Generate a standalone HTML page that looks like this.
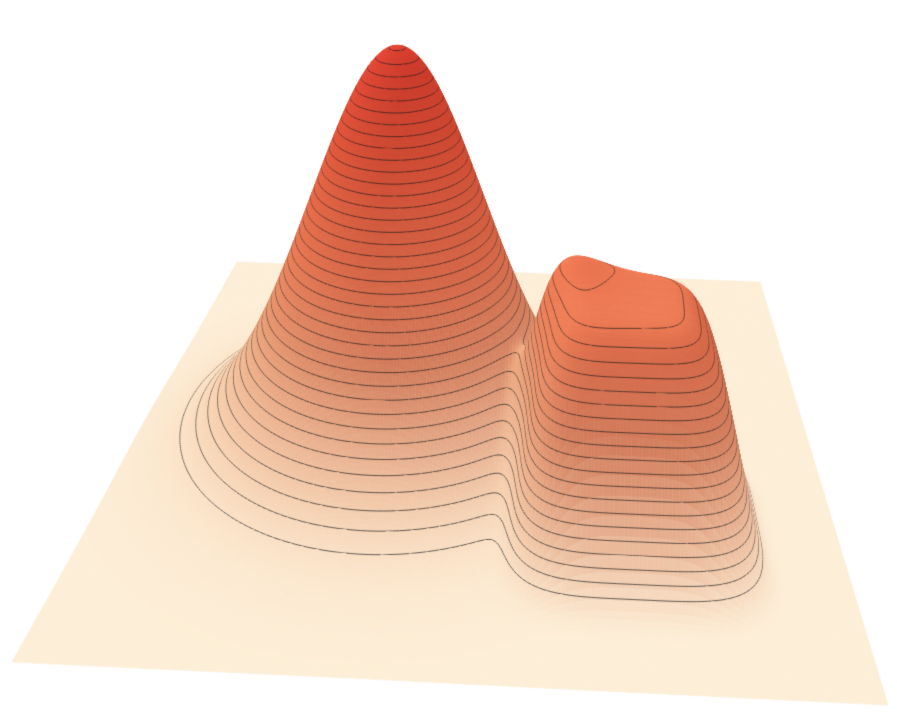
<!DOCTYPE html>
<html><head><meta charset="utf-8"><style>
html,body{margin:0;padding:0;background:#fff;width:897px;height:720px;overflow:hidden}
canvas{display:block}
</style></head><body>
<div style="position:relative;width:897px;height:720px">
<canvas id="c" width="897" height="720"></canvas>
</div>
<script>
// base plane corners (screen) : back-left, back-right, front-right, front-left
const cornerX = [237, 760, 888, 12];
const cornerY = [262, 282, 705, 662];
// peaks in plane coordinates
const peakU = [0.38, 0.725];
const peakV = [0.52, 0.73];
const peakH = [0.98, 0.53];
const peakS = [0.13, 0.127];
const peakP = [2, 6];
const levelStep = 0.025;
const levelStart = 0.05;

const N = 220, HPX = 308;
const cv = document.getElementById('c'), ctx = cv.getContext('2d');
const [x0,x1,x2,x3] = cornerX, [y0,y1,y2,y3] = cornerY;
const dx1=x1-x2, dx2=x3-x2, dx3=x0-x1+x2-x3, dy1=y1-y2, dy2=y3-y2, dy3=y0-y1+y2-y3;
const den = dx1*dy2-dx2*dy1;
const g=(dx3*dy2-dx2*dy3)/den, h=(dx1*dy3-dx3*dy1)/den;
const a=x1-x0+g*x1, b=x3-x0+h*x3, c=x0, d=y1-y0+g*y1, e=y3-y0+h*y3, f=y0;
function proj(u,v,z){const w=g*u+h*v+1;return [(a*u+b*v+c)/w,(d*u+e*v+f)/w - z*HPX/w];}
function height(u,v){let z=0;for(let i=0;i<peakU.length;i++){const du=Math.abs(u-peakU[i]),dv=Math.abs(v-peakV[i]);
  let r; if(peakP[i]===2) r=Math.hypot(du,dv); else r=Math.pow(Math.pow(du,4)+Math.pow(dv,4),0.25);
  z+=peakH[i]*Math.exp(-0.5*Math.pow(r/peakS[i],peakP[i]));}return z;}
const stops=[[0,[253,238,215]],[0.12,[250,212,178]],[0.3,[246,176,132]],[0.5,[249,138,96]],[0.75,[242,102,70]],[1,[236,72,56]]];
function cmap(t){for(let i=1;i<stops.length;i++){if(t<=stops[i][0]){const s=(t-stops[i-1][0])/(stops[i][0]-stops[i-1][0]);
  return stops[i-1][1].map((q,k)=>q+(stops[i][1][k]-q)*s);}}return stops[stops.length-1][1];}
const Z=[];for(let j=0;j<=N;j++){Z.push([]);for(let i=0;i<=N;i++)Z[j].push(height(i/N,j/N));}
const L=[-0.45,-0.35,0.82];const ll=Math.hypot(...L);
ctx.fillStyle='#fff';ctx.fillRect(0,0,897,720);
ctx.lineJoin='round';
for(let j=0;j<N;j++){
  const v0=j/N,v1=(j+1)/N;
  for(let i=0;i<N;i++){
    const u0=i/N,u1=(i+1)/N;
    const z00=Z[j][i],z10=Z[j][i+1],z11=Z[j+1][i+1],z01=Z[j+1][i];
    const zm=(z00+z10+z11+z01)/4;
    const gu=((z10+z11)-(z00+z01))/2*N*0.6, gv=((z01+z11)-(z00+z10))/2*N*0.6;
    const nl=Math.hypot(gu,gv,1);const nd=(-gu*L[0]-gv*L[1]+L[2])/(nl*ll);
    const sh0=0.74+0.26*Math.max(0,nd);
    const sh=1-(1-sh0)*Math.min(1,zm*3);
    const base=cmap(Math.min(1,zm));
    const col=[Math.round(base[0]*(0.45+0.55*sh)),Math.round(base[1]*sh),Math.round(base[2]*sh)];
    const p0=proj(u0,v0,z00),p1=proj(u1,v0,z10),p2=proj(u1,v1,z11),p3=proj(u0,v1,z01);
    ctx.beginPath();ctx.moveTo(p0[0],p0[1]);ctx.lineTo(p1[0],p1[1]);ctx.lineTo(p2[0],p2[1]);ctx.lineTo(p3[0],p3[1]);ctx.closePath();
    const cs='rgb('+col.join(',')+')';ctx.fillStyle=cs;ctx.strokeStyle=cs;ctx.lineWidth=0.6;ctx.fill();ctx.stroke();
  }
  ctx.strokeStyle='rgba(25,25,25,0.85)';ctx.lineWidth=0.8;
  for(let i=0;i<N;i++){
    const u0=i/N,u1=(i+1)/N;
    const cz=[Z[j][i],Z[j][i+1],Z[j+1][i+1],Z[j+1][i]];
    const cu=[u0,u1,u1,u0],cvv=[v0,v0,v1,v1];
    const mn=Math.min(...cz),mx=Math.max(...cz);
    for(let k=Math.max(0,Math.ceil((mn-levelStart)/levelStep));levelStart+k*levelStep<=mx;k++){
      const lv=levelStart+k*levelStep;
      const pts=[];
      for(let m=0;m<4;m++){const n2=(m+1)%4;const za=cz[m],zb=cz[n2];
        if((za<lv)!==(zb<lv)){const t=(lv-za)/(zb-za);pts.push(proj(cu[m]+(cu[n2]-cu[m])*t,cvv[m]+(cvv[n2]-cvv[m])*t,lv));}}
      ctx.beginPath();
      for(let q=0;q+1<pts.length;q+=2){ctx.moveTo(pts[q][0],pts[q][1]);ctx.lineTo(pts[q+1][0],pts[q+1][1]);}
      ctx.stroke();
    }
  }
}
</script>
</body></html>
